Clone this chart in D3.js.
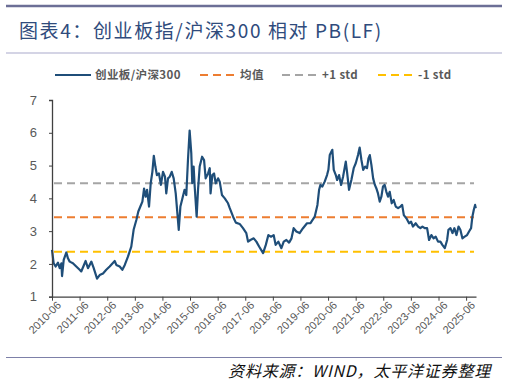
<!DOCTYPE html>
<html>
<head>
<meta charset="utf-8">
<script src="https://cdn.jsdelivr.net/npm/d3@7"></script>
<style>
	body { margin: 0; background: #fff; }
	svg { display: block; font-family: "Noto Sans CJK SC", "Liberation Sans", sans-serif; }
</style>
</head>
<body>
<svg id="chart" width="507" height="384"></svg>
<script>
// relative PB
const dates = [
	'2010-06-01','2010-06-23','2010-07-19','2010-08-19','2010-09-11','2010-10-03','2010-10-12','2010-11-03','2010-12-08','2010-12-29',
	'2011-01-21','2011-03-05','2011-04-18','2011-06-02','2011-06-23','2011-08-20','2011-09-20','2011-11-04','2011-12-05','2012-01-18',
	'2012-02-22','2012-04-06','2012-05-19','2012-07-03','2012-09-08','2012-09-29','2012-11-13','2012-12-18','2013-01-19','2013-03-02',
	'2013-04-15','2013-05-16','2013-06-21','2013-07-17','2013-08-13','2013-09-09','2013-10-01','2013-10-22','2013-11-10','2013-12-06',
	'2013-12-28','2014-01-19','2014-02-07','2014-02-28','2014-03-20','2014-04-16','2014-05-12','2014-06-09','2014-07-05','2014-07-22',
	'2014-08-14','2014-09-06','2014-10-02','2014-10-28','2014-11-24','2014-12-16','2015-01-03','2015-01-25','2015-02-21','2015-03-21',
	'2015-04-13','2015-05-05','2015-05-27','2015-06-18','2015-07-01','2015-07-19','2015-08-02','2015-08-28','2015-09-15','2015-10-07',
	'2015-11-08','2015-12-04','2015-12-25','2016-01-26','2016-02-17','2016-02-28','2016-03-22','2016-04-14','2016-05-06','2016-06-06',
	'2016-06-28','2016-07-28','2016-09-03','2016-10-16','2016-11-08','2016-12-22','2017-01-27','2017-03-19','2017-05-02','2017-06-15',
	'2017-07-08','2017-08-08','2017-09-21','2017-10-26','2017-12-01','2018-01-23','2018-02-28','2018-04-03','2018-05-08','2018-06-12',
	'2018-07-08','2018-08-13','2018-09-22','2018-10-23','2018-11-27','2019-01-02','2019-02-03','2019-03-03','2019-04-08','2019-05-21',
	'2019-07-05','2019-08-27','2019-10-10','2019-12-07','2020-01-12','2020-02-03','2020-02-21','2020-03-17','2020-04-17','2020-05-18',
	'2020-06-05','2020-06-23','2020-07-27','2020-08-15','2020-09-11','2020-09-28','2020-10-24','2020-11-20','2020-12-16','2021-01-21',
	'2021-02-09','2021-03-05','2021-04-05','2021-05-06','2021-06-02','2021-07-02','2021-07-24','2021-08-16','2021-09-08','2021-10-04',
	'2021-10-29','2021-11-17','2021-12-05','2021-12-26','2022-01-18','2022-02-10','2022-03-01','2022-03-23','2022-04-15','2022-05-07',
	'2022-05-28','2022-06-20','2022-07-12','2022-08-03','2022-08-25','2022-09-21','2022-10-17','2022-11-13','2022-12-14','2023-01-14',
	'2023-02-06','2023-02-28','2023-04-03','2023-05-08','2023-06-04','2023-06-29','2023-08-05','2023-09-05','2023-10-05','2023-11-01',
	'2023-12-02','2024-01-02','2024-01-28','2024-02-28','2024-03-28','2024-04-25','2024-05-26','2024-06-26','2024-07-22','2024-08-23',
	'2024-09-23','2024-10-10','2024-11-06','2024-12-03','2024-12-28','2025-01-25','2025-02-21','2025-03-17','2025-04-13','2025-05-13',
	'2025-06-14','2025-07-10','2025-08-06','2025-08-23','2025-09-11','2025-09-28','2025-10-07'
];
const ratio = [
	2.43,2.02,1.92,2.04,1.87,2.02,1.63,2.12,2.35,2.17,
	2.07,2.02,1.92,1.82,1.77,2.09,1.87,2.07,1.87,1.55,
	1.66,1.71,1.82,1.92,2.09,1.97,1.92,1.82,1.97,2.22,
	2.53,3.04,3.34,3.60,3.75,3.90,4.30,4.05,4.26,3.75,
	4.46,4.81,5.30,4.97,4.71,4.76,4.41,4.81,4.66,4.15,
	4.61,4.66,4.81,4.61,4.15,3.54,3.04,3.75,4.00,4.26,
	4.10,5.17,6.07,5.37,4.46,4.97,4.36,3.44,4.26,4.97,
	5.27,5.17,4.61,4.76,4.92,4.15,4.71,4.76,4.46,4.61,
	4.51,4.10,4.00,3.85,3.70,3.44,3.26,3.22,3.09,2.94,
	2.68,2.73,2.78,2.68,2.53,2.33,2.58,2.88,2.83,2.88,
	2.58,2.68,2.48,2.68,2.73,2.65,2.78,3.09,2.99,2.94,
	3.09,3.24,3.24,3.44,3.80,4.26,4.41,4.36,4.51,4.71,
	4.87,5.32,5.48,4.87,4.71,4.56,4.71,4.41,4.66,5.12,
	4.76,4.26,4.56,4.92,5.07,5.32,5.55,5.17,4.87,4.97,
	4.92,5.22,5.32,5.02,4.61,4.41,4.31,4.15,3.90,4.05,
	4.36,4.41,4.20,4.05,4.20,3.85,3.95,3.75,3.70,3.75,
	3.80,3.49,3.39,3.24,3.29,3.14,3.24,3.14,3.09,3.14,
	3.09,3.09,2.73,2.88,2.78,2.83,2.68,2.68,2.58,2.48,
	2.73,3.04,3.09,2.94,3.09,2.88,3.14,3.04,2.78,2.83,
	2.88,2.99,3.09,3.44,3.65,3.80,3.70
];
const meanValue = 3.42;
const plusStd = 4.46;
const minusStd = 2.37;
const yTicks = [1, 2, 3, 4, 5, 6, 7];
const xTickYears = d3.range(2010, 2026);
const legendLabels = ['创业板/沪深300', '均值', '+1 std', '-1 std'];

const svg = d3.select('#chart');
const parse = d3.timeParse('%Y-%m-%d');
const series = dates.map((d, i) => ({ date: parse(d), value: ratio[i] }));

// header
svg.append('line').attr('x1', 6).attr('x2', 502).attr('y1', 6).attr('y2', 6)
	.attr('stroke', '#6c6f96').attr('stroke-width', 2.5);
svg.append('text')
	.attr('x', 19).attr('y', 38)
	.attr('fill', '#2f4b7c')
	.style('font-size', '19px')
	.style('letter-spacing', '1.6px')
	.text('图表4：创业板指/沪深300 相对 PB(LF)');
svg.append('line').attr('x1', 6).attr('x2', 502).attr('y1', 53).attr('y2', 53)
	.attr('stroke', '#a9aacb').attr('stroke-width', 1.2);

const margin = { top: 100, left: 52, right: 476, bottom: 296.7 };
const x = d3.scaleTime()
	.domain([parse('2010-06-01'), parse('2025-10-10')])
	.range([margin.left, margin.right]);
const y = d3.scaleLinear().domain([1, 7]).range([margin.bottom, margin.top]);

const colors = { line: '#1f4e79', mean: '#ed7d31', plus: '#a5a5a5', minus: '#ffc000' };

// reference lines
const refLines = [
	{ v: plusStd, c: colors.plus },
	{ v: meanValue, c: colors.mean },
	{ v: minusStd, c: colors.minus }
];
svg.selectAll('.ref').data(refLines).join('line')
	.attr('class', 'ref')
	.attr('x1', margin.left + 2).attr('x2', margin.right - 2)
	.attr('y1', d => y(d.v)).attr('y2', d => y(d.v))
	.attr('stroke', d => d.c).attr('stroke-width', 2)
	.attr('stroke-dasharray', '8,5');

// main line
svg.append('path')
	.datum(series)
	.attr('fill', 'none')
	.attr('stroke', colors.line)
	.attr('stroke-width', 2.2)
	.attr('stroke-linejoin', 'round')
	.attr('d', d3.line().x(d => x(d.date)).y(d => y(d.value)));

// axes
const yAxis = svg.append('g')
	.attr('transform', `translate(${margin.left},0)`)
	.call(d3.axisLeft(y).tickValues(yTicks).tickSize(3).tickPadding(12).tickFormat(d3.format('d')));
yAxis.select('.domain').attr('stroke', '#404040').attr('stroke-width', 1.3);
yAxis.selectAll('.tick line').attr('stroke', '#404040');
yAxis.selectAll('text').attr('fill', '#595959').style('font-size', '13px')
	.style('font-family', '"Liberation Sans", sans-serif');

const xAxis = svg.append('g')
	.attr('transform', `translate(0,${margin.bottom})`)
	.call(d3.axisBottom(x)
		.tickValues(xTickYears.map(yr => new Date(yr, 5, 1)))
		.tickSize(4).tickSizeOuter(0)
		.tickFormat(d3.timeFormat('%Y-%m')));
xAxis.select('.domain').attr('stroke', '#404040').attr('stroke-width', 1.3);
xAxis.selectAll('.tick line').attr('stroke', '#404040');
xAxis.selectAll('text')
	.attr('fill', '#595959')
	.style('font-size', '11px')
	.style('font-family', '"Liberation Sans", sans-serif')
	.attr('text-anchor', 'end')
	.attr('dx', '0em').attr('dy', '0.55em')
	.attr('transform', 'rotate(-45)');

// legend
const legendItems = [
	{ label: legendLabels[0], c: colors.line, dash: null, x: 55, w: 36 },
	{ label: legendLabels[1], c: colors.mean, dash: '8,5', x: 200, w: 36 },
	{ label: legendLabels[2], c: colors.plus, dash: '8,5', x: 282, w: 36 },
	{ label: legendLabels[3], c: colors.minus, dash: '8,5', x: 378, w: 36 }
];
const lg = svg.append('g').selectAll('g').data(legendItems).join('g')
	.attr('transform', d => `translate(${d.x},75)`);
lg.append('line').attr('x1', 0).attr('x2', d => d.w).attr('y1', 0).attr('y2', 0)
	.attr('stroke', d => d.c).attr('stroke-width', 2)
	.attr('stroke-dasharray', d => d.dash);
lg.append('text').attr('x', d => d.w + 4).attr('y', 4)
	.attr('fill', '#595959').style('font-size', '11.5px').style('font-weight', 'bold')
	.style('letter-spacing', '0.4px')
	.text(d => d.label);

// footer
svg.append('line').attr('x1', 6).attr('x2', 502).attr('y1', 357.5).attr('y2', 357.5)
	.attr('stroke', '#7d80a8').attr('stroke-width', 1);
svg.append('text')
	.attr('x', 491).attr('y', 377)
	.attr('text-anchor', 'end')
	.attr('fill', '#111')
	.style('font-size', '16px')
	.style('font-style', 'italic')
	.style('letter-spacing', '0.8px')
	.text('资料来源：WIND，太平洋证券整理');
</script>
</body>
</html>
